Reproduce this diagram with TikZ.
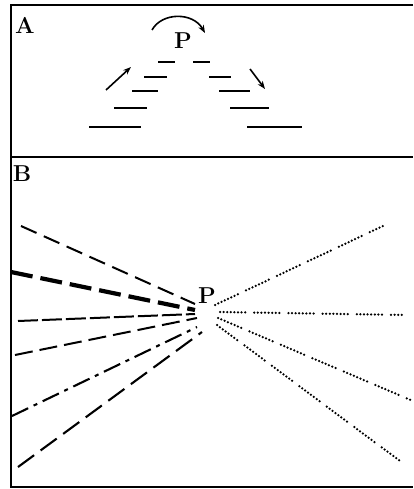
\documentclass[tikz,border=0pt]{standalone}
\usepackage{fontspec}
\usetikzlibrary{arrows.meta}
\begin{document}
\begin{tikzpicture}[x=1pt,y=-1pt,
  frame/.style={line width=2.6pt},
  lbl/.style={inner sep=0pt,font=\fontsize{23}{23}\selectfont\bfseries},
  hdash/.style={line width=2.6pt},
  arr/.style={line width=1.6pt,-{Stealth[length=8pt,width=6pt]}},
  lnA/.style={line width=2pt,dash pattern=on 17pt off 8pt},
  lnB/.style={line width=4.2pt,dash pattern=on 22pt off 8pt},
  lnC/.style={line width=2pt,dash pattern=on 20pt off 4pt},
  lnD/.style={line width=2pt,dash pattern=on 18pt off 7pt},
  lnE/.style={line width=2.1pt,dash pattern=on 18pt off 6pt on 4pt off 6pt},
  lnF/.style={line width=2.1pt,dash pattern=on 20pt off 8pt},
  dots/.style={line width=2.5pt,line cap=round,dash pattern=on 0pt off 3.6pt on 0pt off 3.6pt on 0pt off 3.6pt on 0pt off 3.6pt on 0pt off 3.6pt on 0pt off 3.6pt on 0pt off 3.6pt on 0pt off 9pt}
]
\useasboundingbox (0,0) rectangle (413,489);
% frame
\coordinate (tl) at (11,5);
\coordinate (tr) at (413,5);
\coordinate (ml) at (11,157);
\coordinate (mr) at (413,157);
\coordinate (bl) at (11,487);
\coordinate (br) at (413,487);
\draw[frame] (tr) -- (tl) -- (bl) -- (br);
\draw[frame] (ml) -- (mr);
% labels
\node[lbl] (A) at (25,25) {A};
\node[lbl] (B) at (22,174) {B};
\node[lbl] (PA) at (183,41) {P};
\node[lbl] (PB) at (207,296) {P};
% Panel A arc arrow
\coordinate (arcS) at (152,30);
\coordinate (arcE) at (205,33);
\draw[arr] (arcS) .. controls (162,12) and (193,12) .. (arcE);
% Panel A dashes
\foreach \xa/\xb/\yy [count=\i] in {158/175/62,144/167/77,132/158/91,114/147/108,89/141/127}{
  \coordinate (L\i a) at (\xa,\yy); \coordinate (L\i b) at (\xb,\yy);
  \draw[hdash] (L\i a) -- (L\i b);
}
\foreach \xa/\xb/\yy [count=\i] in {193/210/62,209/231/77,219/250/91,230/269/108,247/302/127}{
  \coordinate (R\i a) at (\xa,\yy); \coordinate (R\i b) at (\xb,\yy);
  \draw[hdash] (R\i a) -- (R\i b);
}
\coordinate (la1) at (106,90); \coordinate (la2) at (131,67);
\coordinate (ra1) at (250,69); \coordinate (ra2) at (265,89);
\draw[arr] (la1) -- (la2);
\draw[arr] (ra1) -- (ra2);
% Panel B left dashed lines
\coordinate (s1) at (21,226);  \coordinate (e1) at (195,304);
\coordinate (s2) at (11,272);  \coordinate (e2) at (195,310);
\coordinate (s3) at (18,321);  \coordinate (e3) at (195,314);
\coordinate (s4) at (15,355);  \coordinate (e4) at (197,318);
\coordinate (s5) at (12,416);  \coordinate (e5) at (197,327);
\coordinate (s6) at (18,467);  \coordinate (e6) at (202,332);
\draw[lnA] (s1) -- (e1);
\draw[lnB] (s2) -- (e2);
\draw[lnC] (s3) -- (e3);
\draw[lnD] (s4) -- (e4);
\draw[lnE] (s5) -- (e5);
\draw[lnF] (s6) -- (e6);
% Panel B right dotted lines
\coordinate (d1) at (215,305); \coordinate (f1) at (383,226);
\coordinate (d2) at (220,312); \coordinate (f2) at (405,315);
\coordinate (d3) at (218,318); \coordinate (f3) at (413,401);
\coordinate (d4) at (217,325); \coordinate (f4) at (400,461);
\draw[dots] (d1) -- (f1);
\draw[dots] (d2) -- (f2);
\draw[dots] (d3) -- (f3);
\draw[dots] (d4) -- (f4);
\end{tikzpicture}
\end{document}
